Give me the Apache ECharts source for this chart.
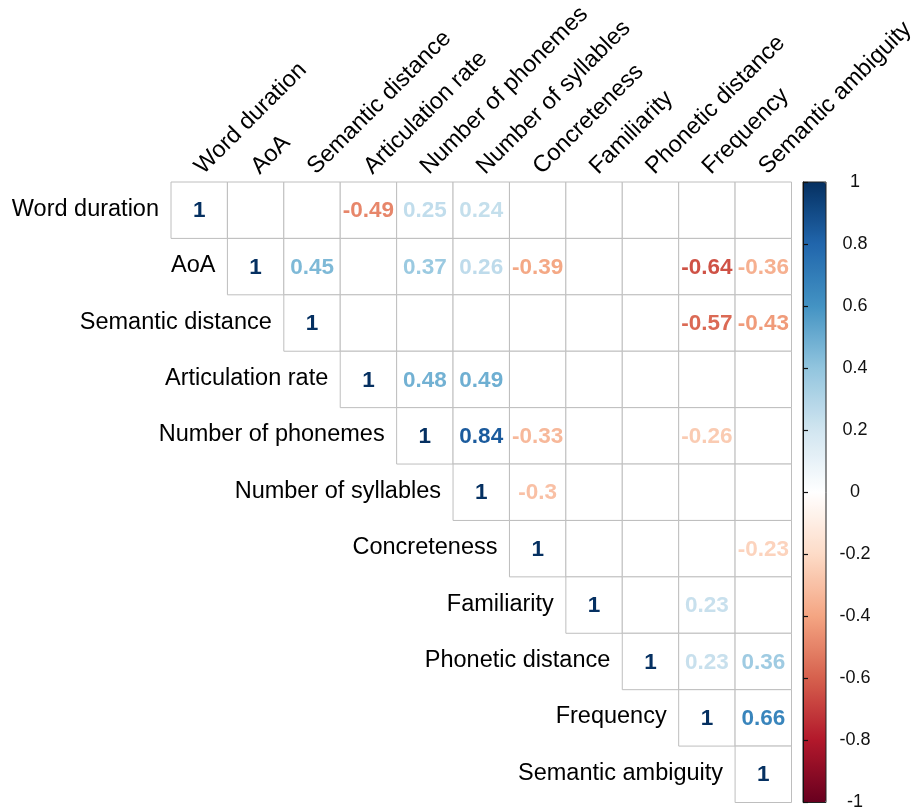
<!DOCTYPE html>
<html>
<head>
<meta charset="utf-8">
<title>Correlation matrix</title>
<script src="https://cdn.jsdelivr.net/npm/echarts@6/dist/echarts.min.js"></script>
<style>
  html, body { margin: 0; padding: 0; background: #fff; }
  #chart { width: 917px; height: 812px; }
</style>
</head>
<body>
<div id="chart"></div>
<script>
// Variable names, in matrix order
const variables = [
  'Word duration', 'AoA', 'Semantic distance', 'Articulation rate',
  'Number of phonemes', 'Number of syllables', 'Concreteness',
  'Familiarity', 'Phonetic distance', 'Frequency', 'Semantic ambiguity'
];

// Upper-triangle correlations; null = not shown (lower triangle or non-significant)
const corr = [
  [1,    null, null, -0.49, 0.25, 0.24, null,  null, null, null,  null ],
  [null, 1,    0.45, null,  0.37, 0.26, -0.39, null, null, -0.64, -0.36],
  [null, null, 1,    null,  null, null, null,  null, null, -0.57, -0.43],
  [null, null, null, 1,     0.48, 0.49, null,  null, null, null,  null ],
  [null, null, null, null,  1,    0.84, -0.33, null, null, -0.26, null ],
  [null, null, null, null,  null, 1,    -0.3,  null, null, null,  null ],
  [null, null, null, null,  null, null, 1,     null, null, null,  -0.23],
  [null, null, null, null,  null, null, null,  1,    null, 0.23,  null ],
  [null, null, null, null,  null, null, null,  null, 1,    0.23,  0.36 ],
  [null, null, null, null,  null, null, null,  null, null, 1,     0.66 ],
  [null, null, null, null,  null, null, null,  null, null, null,  1    ]
];

// Diverging red-blue palette, from -1 to 1
const paletteRdBu = [
  '#67001F', '#B2182B', '#D6604D', '#F4A582', '#FDDBC7', '#FFFFFF',
  '#D1E5F0', '#92C5DE', '#4393C3', '#2166AC', '#053061'
];

// Colour legend range and step
const legendMin = -1;
const legendMax = 1;
const legendStep = 0.2;

const FONT = '"Liberation Sans", Arial, Helvetica, sans-serif';
const LABEL_SIZE = 23.5;
const VALUE_SIZE = 22.5;
const n = variables.length;

// Build series data from the arrays above
const cellData = [];
const valueData = [];
for (let i = 0; i < n; i++) {
  for (let j = i; j < n; j++) {
    cellData.push([j, i]);
    if (corr[i][j] !== null) valueData.push([j, i, corr[i][j]]);
  }
}
const diagData = variables.map((name, i) => [i, i, name]);

const chart = echarts.init(document.getElementById('chart'), null, { renderer: 'canvas' });

chart.setOption({
  animation: false,
  backgroundColor: '#ffffff',
  grid: [
    { left: 171, top: 182, width: 620.5, height: 620.5, show: false },
    { left: 803, top: 182, width: 23, height: 620.5, show: true, z: 10,
      backgroundColor: 'transparent', borderColor: '#222', borderWidth: 1 }
  ],
  xAxis: [
    { type: 'category', gridIndex: 0, data: variables, show: false },
    { type: 'value', gridIndex: 1, show: false, min: 0, max: 1 }
  ],
  yAxis: [
    { type: 'category', gridIndex: 0, data: variables, inverse: true, show: false },
    {
      type: 'value', gridIndex: 1, position: 'right', z: 10,
      min: legendMin, max: legendMax, interval: legendStep,
      axisLine: { show: true, lineStyle: { color: '#111', width: 1 } },
      axisTick: { show: true, inside: false, length: 5, lineStyle: { color: '#111', width: 1.2 } },
      splitLine: { show: false },
      axisLabel: {
        show: true, align: 'center', margin: 29,
        color: '#111', fontSize: 18, fontFamily: FONT
      }
    }
  ],
  visualMap: {
    type: 'continuous',
    min: legendMin, max: legendMax,
    dimension: 2,
    seriesIndex: [1],
    inRange: { color: paletteRdBu },
    calculable: false,
    hoverLink: false,
    orient: 'vertical',
    left: 803, top: 182,
    itemWidth: 23, itemHeight: 620.5,
    padding: 0,
    text: null,
    showLabel: false
  },
  series: [
    {
      // grid cells of the upper triangle
      type: 'custom',
      xAxisIndex: 0, yAxisIndex: 0,
      data: cellData,
      silent: true,
      renderItem: function (params, api) {
        const p = api.coord([api.value(0), api.value(1)]);
        const s = api.size([1, 1]);
        return {
          type: 'rect',
          shape: { x: p[0] - s[0] / 2, y: p[1] - s[1] / 2, width: s[0], height: s[1] },
          style: { fill: '#ffffff', stroke: '#bebebe', lineWidth: 1 }
        };
      }
    },
    {
      // correlation coefficients, coloured by the legend scale
      type: 'custom',
      xAxisIndex: 0, yAxisIndex: 0,
      data: valueData,
      encode: { x: 0, y: 1 },
      silent: true,
      z: 3,
      renderItem: function (params, api) {
        const p = api.coord([api.value(0), api.value(1)]);
        return {
          type: 'text',
          x: p[0], y: p[1] + 1,
          style: {
            text: String(api.value(2)),
            fill: api.visual('color'),
            fontSize: VALUE_SIZE, fontWeight: 'bold', fontFamily: FONT,
            align: 'center', verticalAlign: 'middle'
          }
        };
      }
    },
    {
      // row names, placed left of each diagonal cell
      type: 'custom',
      xAxisIndex: 0, yAxisIndex: 0,
      data: diagData,
      silent: true,
      z: 3,
      renderItem: function (params, api) {
        const p = api.coord([api.value(0), api.value(1)]);
        const s = api.size([1, 1]);
        return {
          type: 'text',
          x: p[0] - s[0] / 2 - 12, y: p[1] - 1,
          style: {
            text: variables[params.dataIndex],
            fill: '#000', fontSize: LABEL_SIZE, fontFamily: FONT,
            align: 'right', verticalAlign: 'middle'
          }
        };
      }
    },
    {
      // column names, rotated above the top row
      type: 'custom',
      xAxisIndex: 0, yAxisIndex: 0,
      data: diagData,
      silent: true,
      z: 3,
      renderItem: function (params, api) {
        const p = api.coord([api.value(0), 0]);
        const s = api.size([1, 1]);
        const top = p[1] - s[1] / 2;
        return {
          type: 'text',
          x: p[0] + 8, y: top - 3,
          rotation: Math.PI / 4,
          style: {
            text: variables[params.dataIndex],
            fill: '#000', fontSize: LABEL_SIZE, fontFamily: FONT,
            align: 'left', verticalAlign: 'bottom'
          }
        };
      }
    }
  ]
});
</script>
</body>
</html>
